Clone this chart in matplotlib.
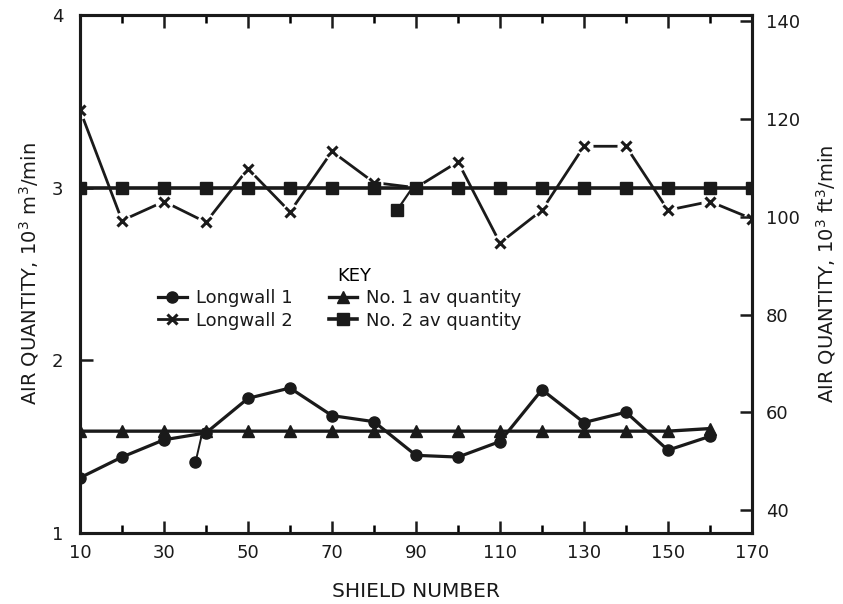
import numpy as np
import matplotlib
matplotlib.use("Agg")
import matplotlib.pyplot as plt
from matplotlib.lines import Line2D
from matplotlib.legend_handler import HandlerLine2D

# Данные, 10^3 m^3/min
shields = [10, 20, 30, 40, 50, 60, 70, 80, 90, 100, 110, 120, 130, 140, 150, 160, 170]

lw1_x = [10, 20, 30, 40, 50, 60, 70, 80, 90, 100, 110, 120, 130, 140, 150, 160]
lw1_y = [1.32, 1.44, 1.54, 1.58, 1.78, 1.84, 1.68, 1.645, 1.45, 1.44, 1.53, 1.83,
         1.64, 1.70, 1.48, 1.56]

lw2_y = [3.45, 2.81, 2.92, 2.80, 3.11, 2.86, 3.21, 3.03, 3.00, 3.15, 2.68, 2.87,
         3.24, 3.24, 2.87, 2.92, 2.82]

av1_x = lw1_x
av1_y = [1.59] * 15 + [1.605]

av2_y = [3.0] * len(shields)

# отдельные точки с выносками
note1_x = [37.5, 39.3]
note1_y = [1.41, 1.60]
note2_x = [85.5, 88.6]
note2_y = [2.87, 2.98]

M3_TO_FT3 = 35.3147

x_ticks = [10, 30, 50, 70, 90, 110, 130, 150, 170]
x_minor = [20, 40, 60, 80, 100, 120, 140, 160]
y_ticks = [1, 2, 3, 4]
y2_ticks = [40, 60, 80, 100, 120, 140]


class EndMarkerHandler(HandlerLine2D):
    # маркер в конце линии, как в ключе оригинала
    def get_xdata(self, legend, xdescent, ydescent, width, height, fontsize):
        xdata, _ = super().get_xdata(legend, xdescent, ydescent, width, height, fontsize)
        return xdata, [xdata[-1]]


plt.rcParams['font.family'] = ['DejaVu Sans']

fig = plt.figure(figsize=(8.43, 6.04), dpi=100)
ax = fig.add_axes([0.0949, 0.1175, 0.7971, 0.8576])

lw = 2.0
black = '#1a1a1a'

# Longwall 2: линия с разрывами у маркеров
ax.plot(shields, lw2_y, color=black, lw=lw, zorder=2)
ax.plot(shields, lw2_y, 'o', color='white', ms=13, mec='none', zorder=2.5)
ax.plot(shields, lw2_y, 'x', color=black, ms=7, mew=2.2, zorder=3)

h4, = ax.plot(shields, av2_y, color=black, lw=lw + 0.6, marker='s', ms=8,
              zorder=2.8, label='No. 2 av quantity')
h3, = ax.plot(av1_x, av1_y, color=black, lw=lw + 0.4, marker='^', ms=8,
              zorder=2.8, label='No. 1 av quantity')
h1, = ax.plot(lw1_x, lw1_y, color=black, lw=lw + 0.3, marker='o', ms=8,
              zorder=3, label='Longwall 1')

ax.plot(note1_x, note1_y, color=black, lw=1.4, zorder=3)
ax.plot(note1_x[:1], note1_y[:1], 'o', color=black, ms=8, zorder=3)
ax.plot(note2_x, note2_y, color=black, lw=1.6, zorder=3)
ax.plot(note2_x[:1], note2_y[:1], 's', color=black, ms=8, zorder=3)

ax.set_xlim(10, 170)
ax.set_ylim(1, 4)
ax.set_xticks(x_ticks)
ax.set_xticks(x_minor, minor=True)
ax.set_yticks(y_ticks)
ax.set_xticklabels([str(v) for v in x_ticks])
ax.set_yticklabels([str(v) for v in y_ticks])

ax.tick_params(axis='x', which='major', direction='in', length=9, width=1.8,
               top=True, labelsize=13, pad=8, colors=black)
ax.tick_params(axis='x', which='minor', direction='in', length=5.5, width=1.8,
               top=True)
ax.tick_params(axis='y', which='major', direction='in', length=9, width=1.8,
               labelsize=13, pad=12, colors=black)

for s in ax.spines.values():
    s.set_linewidth(2.2)
    s.set_color(black)

ax.set_xlabel('SHIELD NUMBER', fontsize=14.5, labelpad=14, color=black)
ax.set_ylabel(r'AIR QUANTITY, $\mathregular{10^3\ m^3/min}$', fontsize=14,
              labelpad=8, color=black)

ax2 = ax.twinx()
ax2.set_ylim(1 * M3_TO_FT3, 4 * M3_TO_FT3)
ax2.set_yticks(y2_ticks)
ax2.set_yticklabels([str(v) for v in y2_ticks])
ax2.tick_params(axis='y', direction='in', length=9, width=1.8, labelsize=13,
                pad=10, colors=black)
for s in ax2.spines.values():
    s.set_linewidth(2.2)
    s.set_color(black)
ax2.set_ylabel(r'AIR QUANTITY, $\mathregular{10^3\ ft^3/min}$', fontsize=14,
               labelpad=10, color=black)

# ключ для Longwall 2: линия и крестик
h2 = Line2D([], [], color=black, lw=lw, marker='x', ms=7, mew=2.2,
            label='Longwall 2')

end = EndMarkerHandler()
leg = ax.legend(handles=[h1, h2, h3, h4], ncol=2, title='KEY', frameon=False,
                loc='upper left', bbox_to_anchor=(0.105, 0.528), fontsize=13,
                title_fontsize=13, handlelength=1.6, handletextpad=0.5,
                columnspacing=2.0, labelspacing=0.25, borderaxespad=0,
                handler_map={h1: end, h2: end, h3: end, h4: end})
leg._legend_box.align = 'center'
leg.get_title().set_position((14, 0))
for t in leg.get_texts():
    t.set_color(black)

fig.savefig('out.png', dpi=100)
